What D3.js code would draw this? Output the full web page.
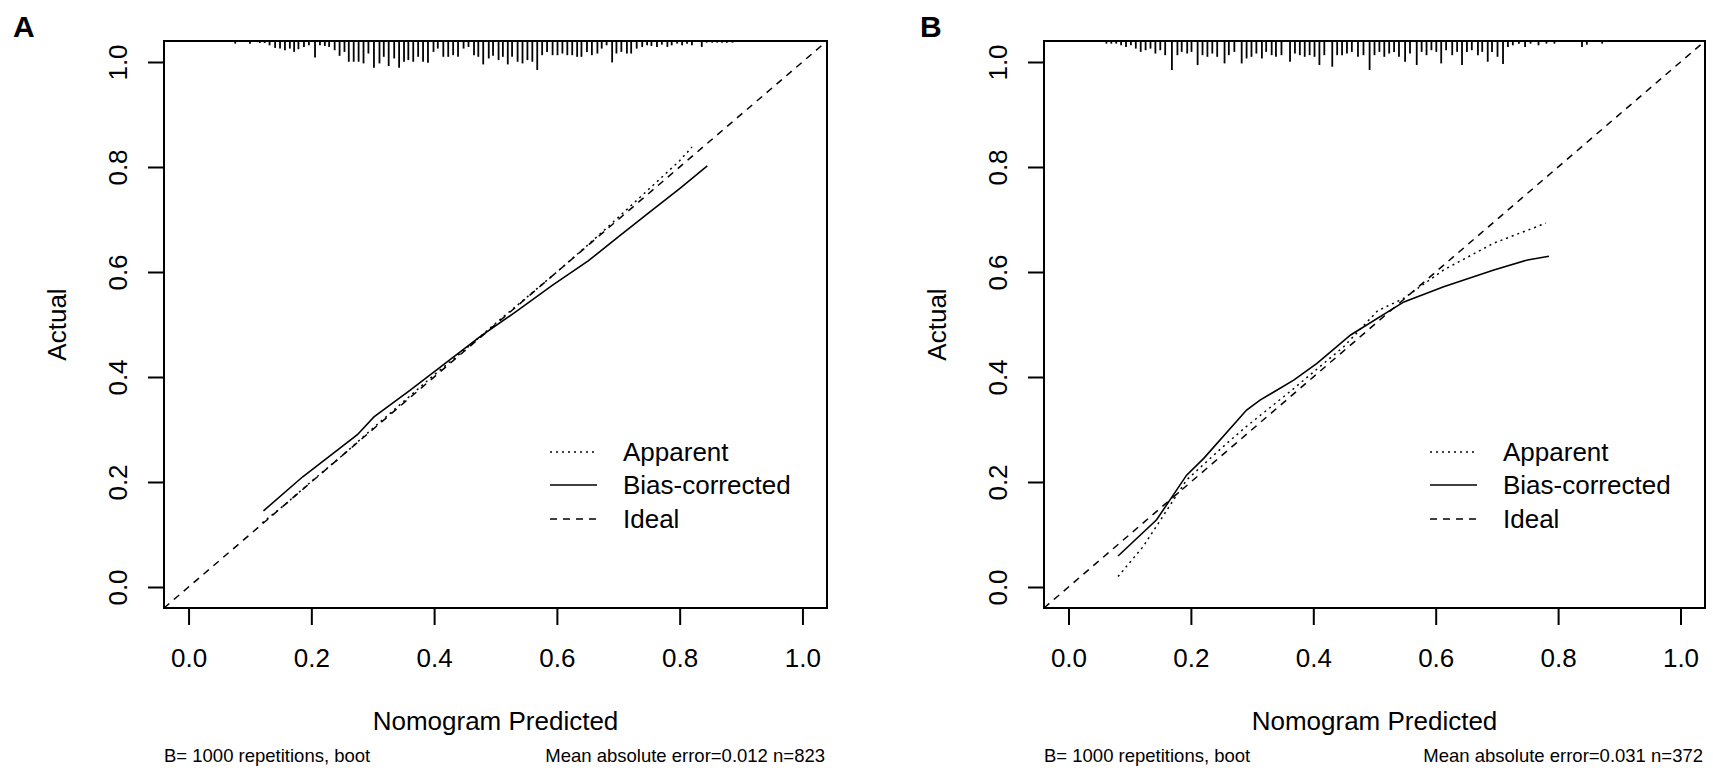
<!DOCTYPE html>
<html><head><meta charset="utf-8">
<script src="https://cdn.jsdelivr.net/npm/d3@7"></script>
<style>
body{margin:0;background:#fff}
svg{display:block}
text{font-family:"Liberation Sans",Arial,Helvetica,sans-serif;fill:#000}
</style>
</head><body>
<svg id="chart" width="1713" height="773"></svg>
<script>
// ---------- data ----------
const xTicks = [0, 0.2, 0.4, 0.6, 0.8, 1.0];
const yTicks = [0, 0.2, 0.4, 0.6, 0.8, 1.0];
const tickFormat = d3.format(".1f");
const legendLabels = ["Apparent", "Bias-corrected", "Ideal"];
const panelNames = ["A", "B"];
const xTitle = "Nomogram Predicted";
const yTitle = "Actual";
const subLeft = ["B= 1000 repetitions, boot", "B= 1000 repetitions, boot"];
const subRight = ["Mean absolute error=0.012 n=823", "Mean absolute error=0.031 n=372"];

// Panel A curves
const apparentA_x = [0.12, 0.16, 0.20, 0.25, 0.30, 0.35, 0.40, 0.45, 0.50, 0.55, 0.60, 0.65, 0.70, 0.75, 0.80, 0.82];
const apparentA_y = [0.122, 0.160, 0.201, 0.250, 0.302, 0.353, 0.404, 0.452, 0.502, 0.551, 0.600, 0.651, 0.704, 0.758, 0.812, 0.838];
const biasA_x = [0.122, 0.186, 0.244, 0.275, 0.302, 0.360, 0.418, 0.476, 0.534, 0.593, 0.651, 0.700, 0.750, 0.800, 0.845];
const biasA_y = [0.145, 0.210, 0.262, 0.290, 0.324, 0.374, 0.426, 0.478, 0.525, 0.575, 0.621, 0.667, 0.713, 0.759, 0.802];

// Panel B curves
const apparentB_x = [0.081, 0.122, 0.193, 0.259, 0.291, 0.368, 0.450, 0.505, 0.548, 0.613, 0.695, 0.780];
const apparentB_y = [0.020, 0.077, 0.204, 0.274, 0.306, 0.378, 0.458, 0.526, 0.550, 0.604, 0.655, 0.693];
const biasB_x = [0.081, 0.144, 0.193, 0.221, 0.291, 0.313, 0.368, 0.406, 0.461, 0.548, 0.613, 0.695, 0.750, 0.785];
const biasB_y = [0.059, 0.128, 0.213, 0.245, 0.337, 0.356, 0.394, 0.426, 0.480, 0.543, 0.572, 0.604, 0.623, 0.630];

// Rug (distribution of predicted values, relative frequencies)
const rugA_x = [0.076,0.100,0.116,0.124,0.132,0.141,0.149,0.157,0.165,0.172,0.179,0.188,0.196,
  0.206,0.214,0.222,0.229,0.238,0.246,0.254,0.261,0.269,0.277,0.285,0.293,
  0.302,0.311,0.318,0.326,0.335,0.343,0.351,0.358,0.366,0.374,0.382,0.390,
  0.399,0.406,0.415,0.423,0.431,0.439,0.448,0.456,0.465,0.472,0.480,0.489,
  0.496,0.505,0.512,0.520,0.527,0.536,0.544,0.552,0.560,0.568,0.576,0.584,
  0.593,0.601,0.609,0.617,0.625,0.633,0.640,0.649,0.657,0.666,0.673,0.681,
  0.690,0.697,0.705,0.714,0.721,0.730,0.739,0.747,0.754,0.763,0.771,
  0.780,0.787,0.796,0.804,0.812,0.820,0.836,0.844,0.853,0.861,0.869,0.877,0.886];
const rugA_n = [8,8,6,6,13,21,23,28,23,33,25,18,13,
  50,13,15,18,28,45,33,63,63,63,68,38,
  81,68,48,76,53,81,63,58,63,48,63,66,
  33,23,48,48,43,48,23,18,43,48,71,53,
  45,58,48,71,48,63,68,58,63,88,43,33,
  43,43,38,43,43,48,48,33,43,38,23,13,
  65,38,33,38,38,23,18,13,15,18,11,
  18,13,8,13,8,13,18,5,5,5,5,5,5];
const rugB_x = [0.062,0.070,0.078,0.086,0.094,0.102,0.110,0.118,0.126,0.134,
  0.142,0.150,0.158,0.169,0.178,0.185,0.194,0.201,0.211,0.219,
  0.227,0.235,0.243,0.255,0.262,0.271,0.283,0.291,0.299,0.307,
  0.316,0.323,0.332,0.339,0.348,0.362,0.370,0.378,0.386,0.394,
  0.402,0.410,0.418,0.431,0.439,0.447,0.455,0.463,0.473,0.482,
  0.492,0.500,0.508,0.516,0.524,0.532,0.540,0.550,0.558,0.569,
  0.577,0.585,0.593,0.601,0.609,0.617,0.627,0.635,0.643,0.651,
  0.659,0.669,0.676,0.685,0.692,0.701,0.710,0.718,0.726,0.736,
  0.746,0.755,0.768,0.781,0.794,0.839,0.847,0.872];
const rugB_n = [8,8,8,13,18,13,23,33,28,23,
  38,28,43,88,43,33,38,33,73,43,
  48,38,48,68,43,33,68,53,48,38,
  53,33,43,48,43,63,38,43,48,43,
  48,73,43,78,43,43,38,33,48,43,
  88,43,33,48,38,33,48,63,38,73,
  33,43,28,33,68,28,43,33,73,33,
  28,43,33,63,33,48,70,18,13,8,
  18,8,13,8,8,18,11,8];

// ---------- drawing ----------
const svg = d3.select("#chart");
const FS = 26, SUB = 18.5;
const panels = [
  {left:164, right:827, labelX:13, app:[apparentA_x, apparentA_y], bias:[biasA_x, biasA_y], rug:[rugA_x, rugA_n]},
  {left:1044, right:1705, labelX:920, app:[apparentB_x, apparentB_y], bias:[biasB_x, biasB_y], rug:[rugB_x, rugB_n]}
];
const plotTop = 41, plotBottom = 608;
const styles = { apparent: "2,4", bias: null, ideal: "7,6" };

panels.forEach((p, i) => {
  const x = d3.scaleLinear().domain([-0.04, 1.04]).range([p.left, p.right]);
  const y = d3.scaleLinear().domain([-0.04, 1.04]).range([plotBottom, plotTop]);
  const g = svg.append("g");
  const line = d3.line().x(d => x(d[0])).y(d => y(d[1]));

  const clipId = "clip" + i;
  svg.append("clipPath").attr("id", clipId).append("rect")
    .attr("x", p.left).attr("y", plotTop).attr("width", p.right - p.left).attr("height", plotBottom - plotTop);
  const plot = g.append("g").attr("clip-path", `url(#${clipId})`);

  plot.append("path").datum([[-0.04, -0.04], [1.04, 1.04]])
    .attr("d", line).attr("fill", "none").attr("stroke", "#000")
    .attr("stroke-width", 1.5).attr("stroke-dasharray", styles.ideal);
  plot.append("path").datum(d3.zip(p.app[0], p.app[1]))
    .attr("d", line).attr("fill", "none").attr("stroke", "#000")
    .attr("stroke-width", 1.5).attr("stroke-dasharray", styles.apparent);
  plot.append("path").datum(d3.zip(p.bias[0], p.bias[1]))
    .attr("d", line).attr("fill", "none").attr("stroke", "#000")
    .attr("stroke-width", 1.6);

  const rl = d3.scaleLinear().domain([0, 88]).range([0, 29]);
  plot.selectAll(".rug").data(d3.zip(p.rug[0], p.rug[1])).join("line")
    .attr("x1", d => x(d[0])).attr("x2", d => x(d[0]))
    .attr("y1", plotTop).attr("y2", d => plotTop + rl(d[1]))
    .attr("stroke", "#000").attr("stroke-width", 1.8);

  g.append("rect").attr("x", p.left).attr("y", plotTop)
    .attr("width", p.right - p.left).attr("height", plotBottom - plotTop)
    .attr("fill", "none").attr("stroke", "#000").attr("stroke-width", 2);

  const xa = g.append("g").attr("transform", `translate(0,${plotBottom})`)
    .call(d3.axisBottom(x).tickValues(xTicks).tickFormat(tickFormat).tickSize(17).tickPadding(24));
  xa.select(".domain").remove();
  xa.selectAll("line").attr("stroke-width", 2);
  xa.selectAll("text").attr("font-size", FS).attr("font-family", null);

  const ya = g.append("g").attr("transform", `translate(${p.left},0)`)
    .call(d3.axisLeft(y).tickValues(yTicks).tickFormat(tickFormat).tickSize(16));
  ya.select(".domain").remove();
  ya.selectAll("line").attr("stroke-width", 2);
  ya.selectAll("text").attr("font-size", FS).attr("font-family", null)
    .attr("x", null).attr("dy", null).attr("text-anchor", "middle")
    .attr("transform", "translate(-37,0) rotate(-90)");

  g.append("text").attr("x", (p.left + p.right) / 2).attr("y", 730)
    .attr("text-anchor", "middle").attr("font-size", FS).text(xTitle);
  g.append("text").attr("transform", `translate(${p.left - 98},${(plotTop + plotBottom) / 2}) rotate(-90)`)
    .attr("text-anchor", "middle").attr("font-size", FS).text(yTitle);
  g.append("text").attr("x", p.left).attr("y", 762).attr("font-size", SUB).text(subLeft[i]);
  g.append("text").attr("x", p.right - 2).attr("y", 762).attr("text-anchor", "end")
    .attr("font-size", SUB).text(subRight[i]);

  svg.append("text").attr("x", p.labelX).attr("y", 37).attr("font-size", 30)
    .attr("font-weight", "bold").text(panelNames[i]);

  const rows = [452, 485, 519];
  const dashes = [styles.apparent, styles.bias, styles.ideal];
  legendLabels.forEach((lab, k) => {
    g.append("line").attr("x1", p.left + 386).attr("x2", p.left + 433)
      .attr("y1", rows[k]).attr("y2", rows[k]).attr("stroke", "#000")
      .attr("stroke-width", 1.6).attr("stroke-dasharray", dashes[k]);
    g.append("text").attr("x", p.left + 459).attr("y", rows[k] + 9)
      .attr("font-size", FS).text(lab);
  });
});
</script>
</body></html>
